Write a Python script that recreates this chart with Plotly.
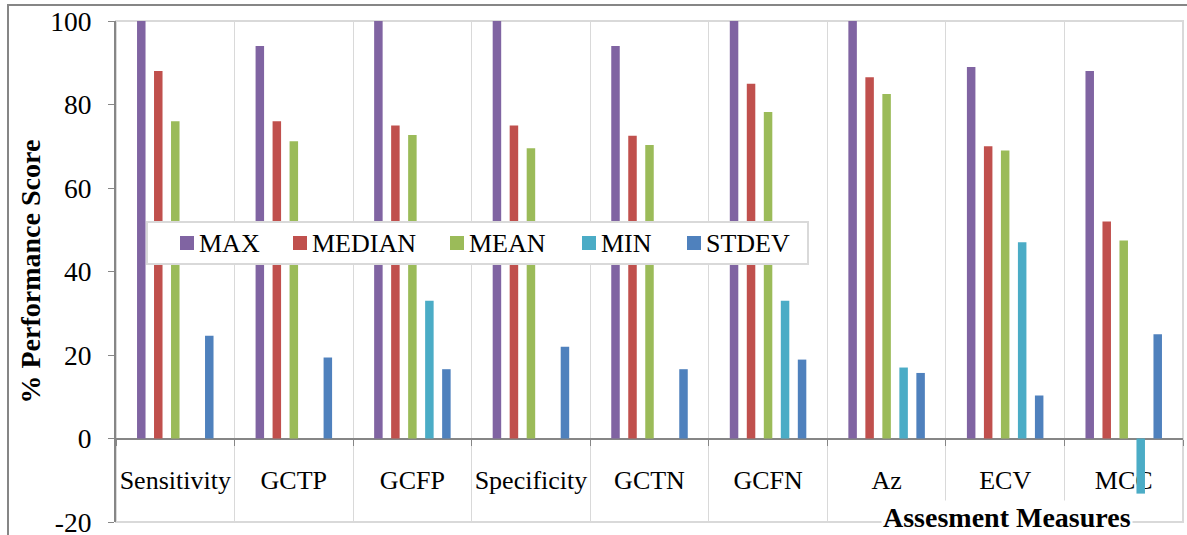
import plotly.graph_objects as go

categories = ["Sensitivity", "GCTP", "GCFP", "Specificity", "GCTN", "GCFN", "Az", "ECV", "MCC"]
series_names = ["MAX", "MEDIAN", "MEAN", "MIN", "STDEV"]
max_vals = [100, 94, 100, 100, 94, 100, 100, 89, 88]
median_vals = [88, 76, 75, 75, 72.5, 85, 86.5, 70, 52]
mean_vals = [76, 71.2, 72.7, 69.5, 70.3, 78.2, 82.5, 69, 47.4]
min_vals = [0, 0, 33, 0, 0, 33, 17, 47, -13.2]
stdev_vals = [24.6, 19.4, 16.6, 22, 16.6, 18.9, 15.7, 10.3, 25]
y_tick_vals = [-20, 0, 20, 40, 60, 80, 100]
y_tick_text = ["-20", "0", "20", "40", "60", "80", "100"]
colors = ["#8064A2", "#C0504D", "#9BBB59", "#4BACC6", "#4F81BD"]

FONT = "Liberation Serif"
W, H = 1187, 535
L, R, T, B = 116, 4, 21, 13
pw, ph = W - L - R, H - T - B

def px_x(x):
    return (x - L) / pw

def px_y(y):
    return (H - B - y) / ph

fig = go.Figure()
for name, vals, col in zip(series_names, [max_vals, median_vals, mean_vals, min_vals, stdev_vals], colors):
    fig.add_trace(go.Bar(name=name, x=categories, y=vals, marker=dict(color=col, line=dict(width=0))))

# legend box drawn as layout shapes + text annotations (pixel layout positions)
legend_box = (147, 222, 808, 264)
swatch_left = [180, 293, 450, 582, 687]
swatch_size = 14
legend_cy = 243

shapes = [
    dict(type="rect", xref="paper", yref="paper", x0=0, x1=1, y0=0, y1=1,
         line=dict(color="#D9D9D9", width=2), layer="below"),
    dict(type="rect", xref="paper", yref="paper", x0=px_x(8), x1=px_x(1195), y0=px_y(545), y1=px_y(5),
         line=dict(color="#868686", width=2), layer="below"),
    dict(type="rect", xref="paper", yref="paper",
         x0=px_x(legend_box[0]), x1=px_x(legend_box[2]), y0=px_y(legend_box[3]), y1=px_y(legend_box[1]),
         line=dict(color="#D9D9D9", width=2), fillcolor="white", layer="above"),
]
annotations = [
    dict(text="<b>% Performance Score</b>", xref="paper", yref="paper", x=px_x(30), y=0.5,
         textangle=-90, showarrow=False, xanchor="center", yanchor="middle",
         font=dict(family=FONT, size=28, color="black")),
    dict(text="<b>Assesment Measures</b>", xref="paper", yref="paper", x=px_x(1007), y=px_y(517),
         showarrow=False, xanchor="center", yanchor="middle", bgcolor="white",
         font=dict(family=FONT, size=28, color="black")),
]
for name, col, sx in zip(series_names, colors, swatch_left):
    shapes.append(dict(type="rect", xref="paper", yref="paper",
                       x0=px_x(sx), x1=px_x(sx + swatch_size),
                       y0=px_y(legend_cy + swatch_size / 2), y1=px_y(legend_cy - swatch_size / 2),
                       line=dict(width=0), fillcolor=col, layer="above"))
    annotations.append(dict(text=name, xref="paper", yref="paper", x=px_x(sx + swatch_size + 3),
                            y=px_y(legend_cy), xanchor="left", yanchor="middle", showarrow=False,
                            font=dict(family=FONT, size=26, color="black")))

fig.update_layout(
    width=W, height=H,
    margin=dict(l=L, r=R, t=T, b=B),
    paper_bgcolor="white", plot_bgcolor="white",
    barmode="group", bargap=0.283, bargroupgap=0.5,
    showlegend=False,
    font=dict(family=FONT, size=26, color="black"),
    xaxis=dict(
        type="category", tickson="boundaries", showgrid=True, gridcolor="#D9D9D9", gridwidth=1,
        anchor="free", position=1/6, showline=True, linecolor="#868686", linewidth=2,
        ticks="outside", ticklen=6, tickcolor="#868686", ticklabelstandoff=18,
        tickangle=0, automargin=False,
        tickfont=dict(family=FONT, size=26, color="black"), layer="below traces",
    ),
    yaxis=dict(
        range=[-20, 100], tickvals=y_tick_vals, ticktext=y_tick_text,
        showgrid=False, zeroline=False,
        showline=True, linecolor="#868686", linewidth=2, automargin=False,
        ticks="outside", ticklen=6, tickcolor="#868686", ticklabelstandoff=11,
        ticklabeloverflow="allow",
        tickfont=dict(family=FONT, size=27.5, color="black"),
    ),
    shapes=shapes,
    annotations=annotations,
)

fig.write_html("out.html")
